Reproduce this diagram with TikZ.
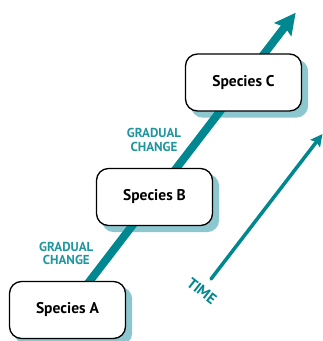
\documentclass[tikz,border=0pt]{standalone}
\usepackage{fontspec}
\setmainfont{PT Sans}
\usetikzlibrary{arrows.meta}
\definecolor{tealarrow}{HTML}{00878F}
\definecolor{shadowc}{HTML}{8CC6CF}
\definecolor{tealtext}{HTML}{1F969E}
\pgfdeclarelayer{shadowlayer}
\pgfdeclarelayer{arrowlayer}
\pgfsetlayers{shadowlayer,arrowlayer,main}
\begin{document}
\begin{tikzpicture}[x=1pt,y=-1pt,
  speciesbox/.style={draw=black, line width=1.3pt, fill=white, rounded corners=12pt,
    minimum width=116pt, minimum height=57pt, inner sep=0pt,
    font=\bfseries\fontsize{15.5}{17}\selectfont},
  gradlabel/.style={text=tealtext, align=center, inner sep=0pt,
    font=\bfseries\fontsize{13}{13.3}\selectfont},
  timelabel/.style={text=tealarrow, inner sep=0pt,
    font=\bfseries\fontsize{15}{16}\selectfont},
  shadowbox/.style={fill=shadowc, rounded corners=12pt},
  mainarrow/.style={tealarrow, line width=8pt, -{Stealth[length=21pt,width=21pt,inset=3pt]}},
  timearrow/.style={tealarrow, line width=3.5pt, line cap=round, -{Stealth[length=12pt,width=12pt,inset=2pt]}}
]
\useasboundingbox (0,0) rectangle (323,341);
\node[speciesbox] (A) at (67.5,310) {\raisebox{4pt}{Species A}};
\node[speciesbox] (B) at (154.5,197) {\raisebox{4pt}{Species B}};
\node[speciesbox] (C) at (243.5,82.5) {\raisebox{4pt}{Species C}};
\coordinate (tip) at (295.7,12.7);
\coordinate (t0) at (211,279);
\coordinate (t1) at (322.5,134);
\begin{pgfonlayer}{shadowlayer}
  \foreach \n in {A,B,C}
    \fill[shadowbox] ([shift={(6,6)}]\n.north west) rectangle ([shift={(6,6)}]\n.south east);
\end{pgfonlayer}
\begin{pgfonlayer}{arrowlayer}
  \draw[mainarrow] (A.center) -- (tip);
\end{pgfonlayer}
\draw[timearrow] (t0) -- (t1);
\node[gradlabel] (g1) at (66.3,253.3) {GRADUAL\\CHANGE};
\node[gradlabel] (g2) at (154,140) {GRADUAL\\CHANGE};
\node[timelabel, rotate=-38] (time) at (202,291) {TIME};
\end{tikzpicture}
\end{document}
